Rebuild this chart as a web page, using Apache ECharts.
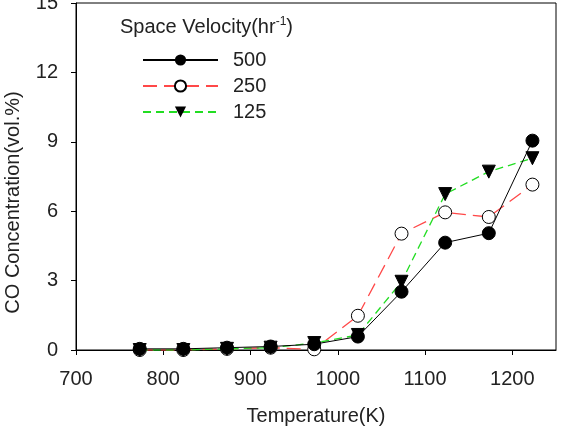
<!DOCTYPE html>
<html>
<head>
<meta charset="utf-8">
<script src="https://cdn.jsdelivr.net/npm/echarts@6/dist/echarts.min.js"></script>
<style>
  html, body { margin: 0; padding: 0; background: #fff; }
  #main { width: 569px; height: 432px; }
</style>
</head>
<body>
<div id="main"></div>
<script>
// temperatures (K)
const temps = [773, 823, 873, 923, 973, 1023, 1073, 1123, 1173, 1223]
// CO concentration (vol.%) per space velocity
const sv500 = [0.05, 0.05, 0.1, 0.15, 0.25, 0.58, 2.52, 4.64, 5.05, 9.05]
const sv250 = [0.0, 0.0, 0.05, 0.1, 0.03, 1.48, 5.03, 5.95, 5.75, 7.15]
const sv125 = [0.0, 0.0, 0.05, 0.1, 0.3, 0.65, 2.95, 6.74, 7.71, 8.29]
const seriesNames = ['500', '250', '125']

const pairs = arr => temps.map((t, i) => [t, arr[i]])
const font = 'Arial, "Liberation Sans", sans-serif'

let chart = echarts.init(document.getElementById('main'))
chart.setOption({
  animation: false,
  textStyle: { fontFamily: font, color: '#000' },
  grid: {
    left: 76, right: 13, top: 3, bottom: 82,
    outerBoundsMode: 'none',
    containLabel: false,
    show: true, borderColor: '#000', borderWidth: 1
  },
  title: {
    left: 115, top: 11,
    text: 'Space Velocity(hr{sup|-1})',
    textStyle: {
      fontFamily: font, fontWeight: 'normal', fontSize: 20, color: '#222',
      rich: {
        sup: { fontSize: 12, fontFamily: font, color: '#222', padding: [0, 0, 11, 0] }
      }
    }
  },
  legend: {
    orient: 'vertical',
    left: 137, top: 45,
    itemWidth: 75, itemHeight: 14, itemGap: 6,
    data: seriesNames,
    textStyle: { fontFamily: font, fontSize: 20, color: '#222', padding: [0, 0, 0, 10] }
  },
  xAxis: {
    type: 'value', min: 700, max: 1250, interval: 100,
    name: 'Temperature(K)', nameLocation: 'middle', nameGap: 56,
    nameTextStyle: { fontSize: 20, color: '#222' },
    axisLine: { lineStyle: { color: '#000', width: 1 } },
    axisTick: { show: true, inside: false, length: 5, lineStyle: { color: '#000' } },
    axisLabel: { fontSize: 20, color: '#222', margin: 19, showMaxLabel: false, formatter: v => String(v) },
    splitLine: { show: false }
  },
  yAxis: {
    type: 'value', min: 0, max: 15, interval: 3,
    name: 'CO Concentration(vol.%)', nameLocation: 'middle', nameGap: 53,
    nameTextStyle: { fontSize: 20, color: '#222', padding: [0, 52, 0, 0] },
    axisLine: { show: true, lineStyle: { color: '#000', width: 1 } },
    axisTick: { show: true, inside: false, length: 5, lineStyle: { color: '#000' } },
    axisLabel: { fontSize: 20, color: '#222', margin: 18 },
    splitLine: { show: false }
  },
  series: [
    {
      name: '500', type: 'line', z: 4,
      data: pairs(sv500),
      symbol: 'circle', symbolSize: 13,
      itemStyle: { color: '#000', borderColor: '#000' },
      lineStyle: { color: '#000', width: 1 }
    },
    {
      name: '250', type: 'line', z: 2,
      data: pairs(sv250),
      symbol: 'circle', symbolSize: 13,
      itemStyle: { color: '#fff', borderColor: '#000', borderWidth: 1 },
      lineStyle: { color: '#ff4848', width: 1.3, type: [14, 7] }
    },
    {
      name: '125', type: 'line', z: 3,
      data: pairs(sv125),
      symbol: 'triangle', symbolRotate: 180, symbolSize: 13,
      itemStyle: { color: '#000', borderColor: '#000' },
      lineStyle: { color: '#22dd22', width: 1.3, type: [8, 5] }
    }
  ]
})
</script>
</body>
</html>
